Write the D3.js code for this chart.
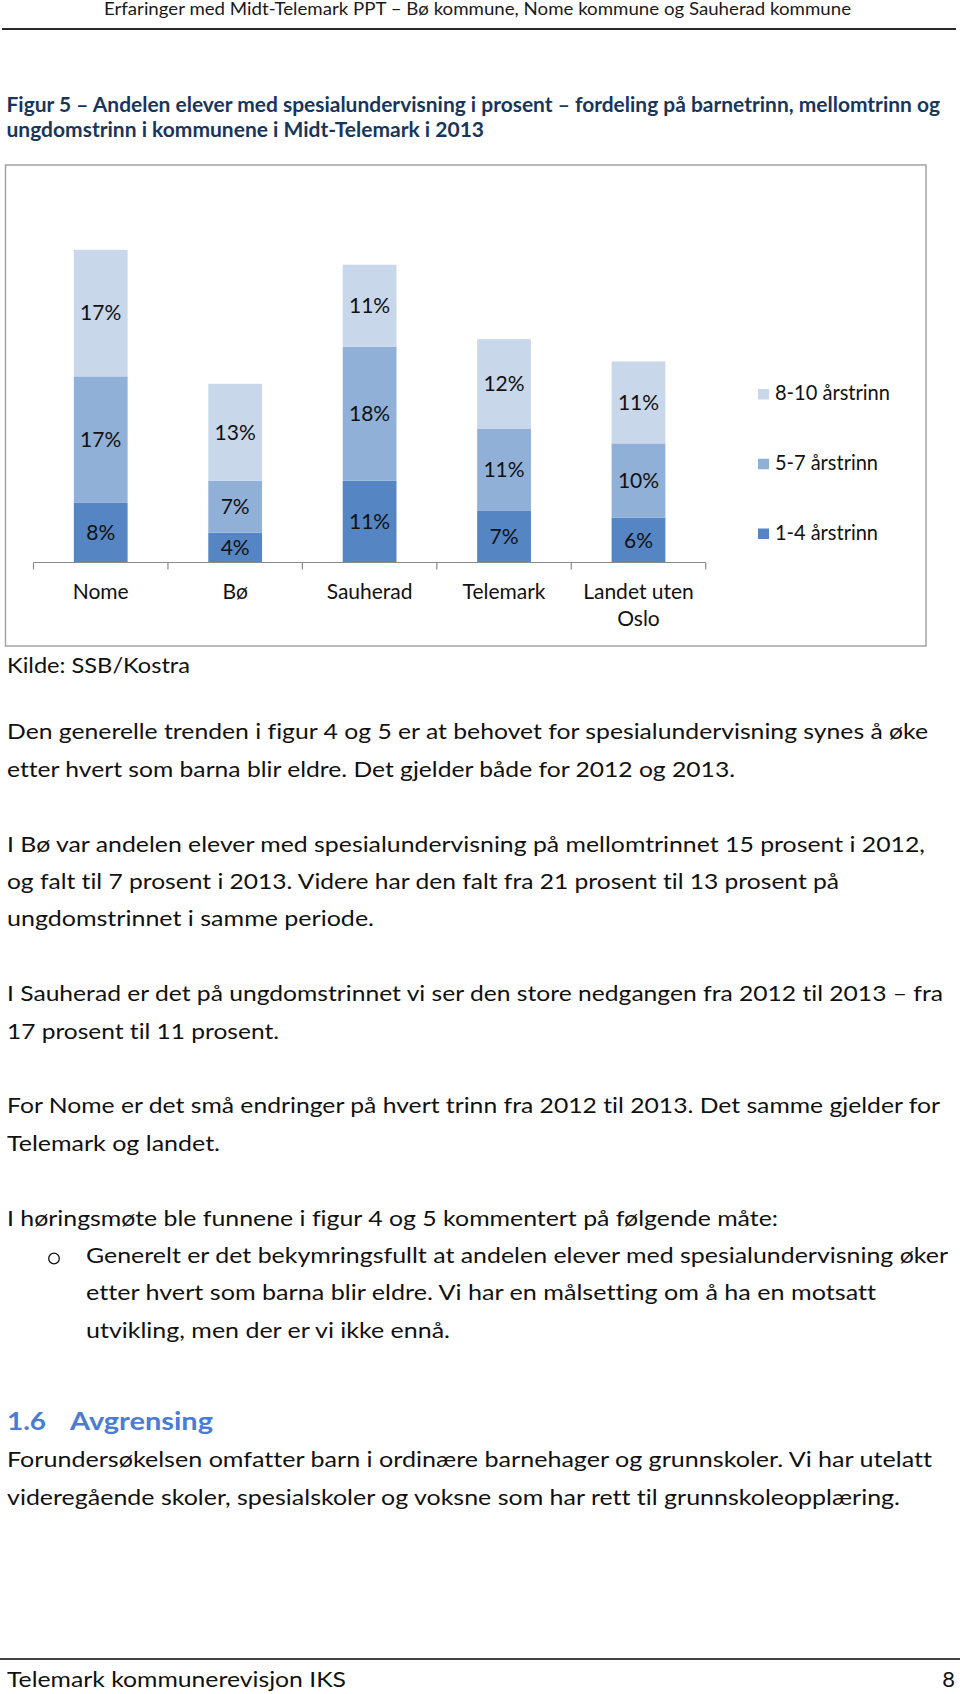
<!DOCTYPE html>
<html>
<head>
<meta charset="utf-8">
<script src="https://cdn.jsdelivr.net/npm/d3@7"></script>
<style>
  body { margin: 0; background: #fff; }
  svg { display: block; }
  text { font-family: Lato, "Open Sans", sans-serif; font-variant-ligatures: none; }
</style>
</head>
<body>
<svg id="page"></svg>
<script>
// chart values (prosent)
const categories = ["Nome", "Bø", "Sauherad", "Telemark", "Landet uten Oslo"];
const trinn1_4 = [8, 4, 11, 7, 6];
const trinn5_7 = [17, 7, 18, 11, 10];
const trinn8_10 = [17, 13, 11, 12, 11];
const seriesNames = ["1-4 årstrinn", "5-7 årstrinn", "8-10 årstrinn"];
const seriesColors = ["#5585c3", "#91b0d8", "#c9d7ea"];

// page text
const headerText = "Erfaringer med Midt-Telemark PPT – Bø kommune, Nome kommune og Sauherad kommune";
const titleLines = [
    "Figur 5 – Andelen elever med spesialundervisning i prosent – fordeling på barnetrinn, mellomtrinn og",
    "ungdomstrinn i kommunene i Midt-Telemark i 2013"
];
const sourceText = "Kilde: SSB/Kostra";
const bodyLines = [
    "Den generelle trenden i figur 4 og 5 er at behovet for spesialundervisning synes å øke",
    "etter hvert som barna blir eldre. Det gjelder både for 2012 og 2013.",
    "I Bø var andelen elever med spesialundervisning på mellomtrinnet 15 prosent i 2012,",
    "og falt til 7 prosent i 2013. Videre har den falt fra 21 prosent til 13 prosent på",
    "ungdomstrinnet i samme periode.",
    "I Sauherad er det på ungdomstrinnet vi ser den store nedgangen fra 2012 til 2013 – fra",
    "17 prosent til 11 prosent.",
    "For Nome er det små endringer på hvert trinn fra 2012 til 2013. Det samme gjelder for",
    "Telemark og landet.",
    "I høringsmøte ble funnene i figur 4 og 5 kommentert på følgende måte:",
    "Generelt er det bekymringsfullt at andelen elever med spesialundervisning øker",
    "etter hvert som barna blir eldre. Vi har en målsetting om å ha en motsatt",
    "utvikling, men der er vi ikke ennå."
];
const headingNumber = "1.6";
const headingText = "Avgrensing";
const sectionLines = [
    "Forundersøkelsen omfatter barn i ordinære barnehager og grunnskoler. Vi har utelatt",
    "videregående skoler, spesialskoler og voksne som har rett til grunnskoleopplæring."
];
const footerText = "Telemark kommunerevisjon IKS";
const pageNumber = "8";

// layout of the text lines: grid row, left x, right x
const bodyRows = [0, 1, 3, 4, 5, 7, 8, 10, 11, 13, 14, 15, 16];
const bodyLeft = [7, 7, 7, 7, 7, 7, 7, 7, 7, 7, 86, 86, 86];
const bodyRight = [928, 735, 925, 839, 374, 943, 279, 940, 220, 778, 948, 876, 450];
const sectionRight = [932, 900];

const svg = d3.select("#page").attr("width", 960).attr("height", 1694);

// header
svg.append("text")
    .attr("x", 477.5).attr("y", 14.5)
    .attr("text-anchor", "middle")
    .attr("font-size", 16.5)
    .attr("fill", "#1a1a1a")
    .attr("textLength", 747).attr("lengthAdjust", "spacingAndGlyphs")
    .text(headerText);
svg.append("line")
    .attr("x1", 2).attr("x2", 956).attr("y1", 29).attr("y2", 29)
    .attr("stroke", "#2a2a2a").attr("stroke-width", 2);

// figure title
const titleWidths = [933.5, 477.5];
titleLines.forEach((t, i) => {
    svg.append("text")
        .attr("x", 6.5).attr("y", 111.5 + i * 25.5)
        .attr("font-size", 20).attr("font-weight", "bold")
        .attr("fill", "#17365d")
        .attr("textLength", titleWidths[i]).attr("lengthAdjust", "spacingAndGlyphs")
        .text(t);
});

// chart frame
svg.append("rect")
    .attr("x", 5.5).attr("y", 165).attr("width", 920.5).attr("height", 481)
    .attr("fill", "#fff").attr("stroke", "#a3a3a3").attr("stroke-width", 1.5);

// scales
const baseY = 562.5;
const x = d3.scaleBand().domain(categories).range([33.5, 705.7])
    .paddingInner(0.6).paddingOuter(0.3);
const y = d3.scaleLinear().domain([0, 45]).range([baseY, baseY - 45 * 7.445]);

const rows = categories.map((c, i) => ({ cat: c, s0: trinn1_4[i], s1: trinn5_7[i], s2: trinn8_10[i] }));
const stacked = d3.stack().keys(["s0", "s1", "s2"])(rows);

// bars
const layer = svg.append("g").selectAll("g")
    .data(stacked)
    .enter().append("g")
    .attr("fill", (d, i) => seriesColors[i]);

layer.selectAll("rect")
    .data(d => d)
    .enter().append("rect")
    .attr("x", d => x(d.data.cat))
    .attr("width", x.bandwidth())
    .attr("y", d => y(d[1]))
    .attr("height", d => y(d[0]) - y(d[1]));

// value labels
layer.selectAll("text")
    .data(d => d)
    .enter().append("text")
    .attr("x", d => x(d.data.cat) + x.bandwidth() / 2)
    .attr("y", d => (y(d[0]) + y(d[1])) / 2)
    .attr("dy", "0.35em")
    .attr("text-anchor", "middle")
    .attr("font-size", 21)
    .attr("fill", "#111")
    .text(d => (d[1] - d[0]) + "%");

// x axis
const axis = svg.append("g")
    .attr("transform", `translate(0,${baseY})`)
    .call(d3.axisBottom(x).tickSize(0).tickPadding(22));
axis.select(".domain").remove();
axis.selectAll("text")
    .attr("font-size", 21)
    .attr("fill", "#111")
    .style("font-family", "Lato, 'Open Sans', sans-serif")
    .each(function(d) {
        const words = d.split(" ");
        const lines = words.length > 2 ? [words.slice(0, 2).join(" "), words.slice(2).join(" ")] : [d];
        const t = d3.select(this).text(null);
        lines.forEach((l, i) => {
            t.append("tspan").attr("x", 0).attr("dy", i === 0 ? "0.71em" : 26.5).text(l);
        });
    });
axis.append("line")
    .attr("x1", x.range()[0]).attr("x2", x.range()[1])
    .attr("stroke", "#8a8a8a").attr("stroke-width", 1.2);
axis.selectAll(".bound")
    .data(d3.range(categories.length + 1))
    .enter().append("line")
    .attr("class", "bound")
    .attr("x1", i => x.range()[0] + i * x.step())
    .attr("x2", i => x.range()[0] + i * x.step())
    .attr("y1", 0).attr("y2", 7)
    .attr("stroke", "#8a8a8a").attr("stroke-width", 1.2);

// legend (top entry is the upper series)
const legend = svg.append("g").selectAll("g")
    .data(seriesNames.map((n, i) => ({ name: n, color: seriesColors[i] })).reverse())
    .enter().append("g")
    .attr("transform", (d, i) => `translate(758,${400 + i * 69.75})`);
legend.append("rect")
    .attr("x", 0).attr("y", -11).attr("width", 11).attr("height", 10.5)
    .attr("fill", d => d.color);
legend.append("text")
    .attr("x", 17).attr("y", 0)
    .attr("font-size", 20.5).attr("fill", "#111")
    .attr("textLength", d => d.name.length > 12 ? 115 : 103).attr("lengthAdjust", "spacingAndGlyphs")
    .text(d => d.name);

// source
svg.append("text")
    .attr("x", 7).attr("y", 673)
    .attr("font-size", 22).attr("fill", "#111")
    .attr("textLength", 183).attr("lengthAdjust", "spacingAndGlyphs")
    .text(sourceText);

// body paragraphs
bodyLines.forEach((t, i) => {
    svg.append("text")
        .attr("x", bodyLeft[i]).attr("y", 739.3 + bodyRows[i] * 37.4)
        .attr("font-size", 22).attr("fill", "#111")
        .attr("textLength", bodyRight[i] - bodyLeft[i]).attr("lengthAdjust", "spacingAndGlyphs")
        .text(t);
});
// bullet
svg.append("circle")
    .attr("cx", 54).attr("cy", 1258.5).attr("r", 5.3)
    .attr("fill", "none").attr("stroke", "#111").attr("stroke-width", 1.3);

// section heading
svg.append("text")
    .attr("x", 7).attr("y", 1430)
    .attr("font-size", 24).attr("font-weight", "bold").attr("fill", "#4a7cd6")
    .attr("textLength", 39).attr("lengthAdjust", "spacingAndGlyphs")
    .text(headingNumber);
svg.append("text")
    .attr("x", 70).attr("y", 1430)
    .attr("font-size", 24).attr("font-weight", "bold").attr("fill", "#4a7cd6")
    .attr("textLength", 143).attr("lengthAdjust", "spacingAndGlyphs")
    .text(headingText);

sectionLines.forEach((t, i) => {
    svg.append("text")
        .attr("x", 7).attr("y", 1467 + i * 38)
        .attr("font-size", 22).attr("fill", "#111")
        .attr("textLength", sectionRight[i] - 7).attr("lengthAdjust", "spacingAndGlyphs")
        .text(t);
});

// footer
svg.append("line")
    .attr("x1", 0).attr("x2", 960).attr("y1", 1659).attr("y2", 1659)
    .attr("stroke", "#444").attr("stroke-width", 2);
svg.append("text")
    .attr("x", 7).attr("y", 1687)
    .attr("font-size", 22).attr("fill", "#111")
    .attr("textLength", 339).attr("lengthAdjust", "spacingAndGlyphs")
    .text(footerText);
svg.append("text")
    .attr("x", 955).attr("y", 1687)
    .attr("text-anchor", "end")
    .attr("font-size", 22).attr("fill", "#111")
    .text(pageNumber);
</script>
</body>
</html>
